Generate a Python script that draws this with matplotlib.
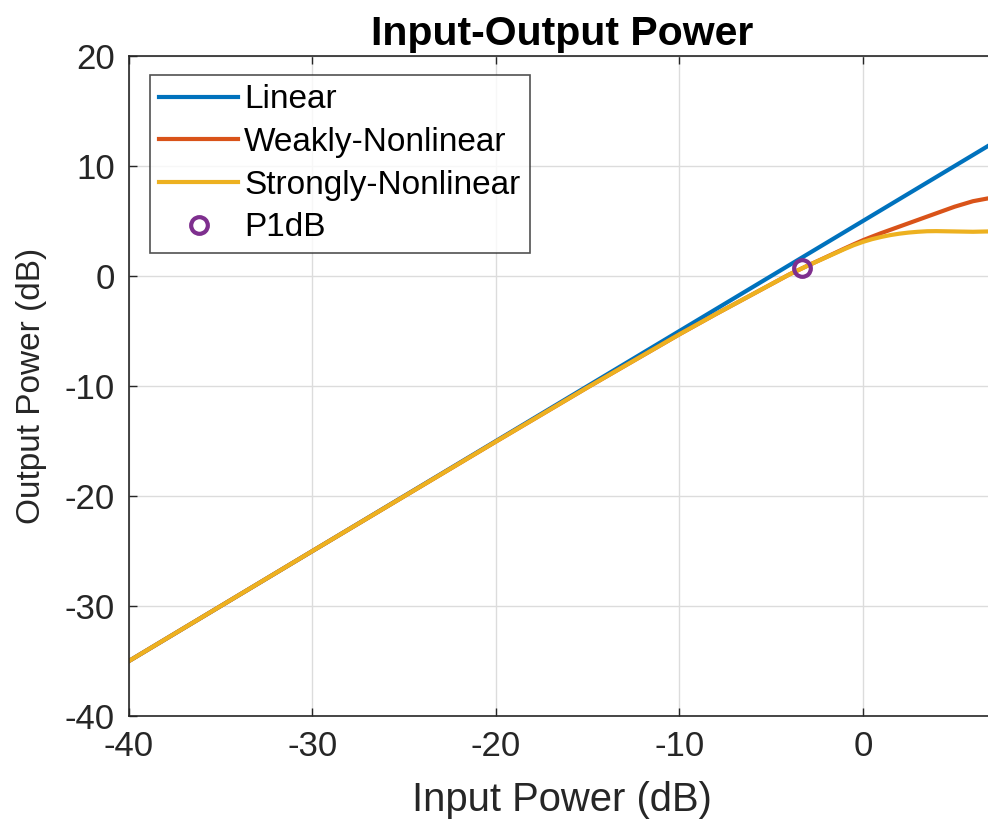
import numpy as np
import matplotlib
matplotlib.use('Agg')
import matplotlib.pyplot as plt

plt.rcParams['font.family'] = ['Liberation Sans', 'DejaVu Sans']
plt.rcParams['axes.unicode_minus'] = False

# data
p_in = [-40, -30, -20, -15, -10, -8, -6, -4, -3, -2, -1, -0.5, 0, 0.5, 1, 1.5,
        2, 2.5, 3, 3.5, 4, 5, 6, 6.8, 7.2]
linear = [-35, -25, -15, -10, -5, -3, -1, 1, 2, 3, 4, 4.5, 5, 5.5, 6, 6.5,
          7, 7.5, 8, 8.5, 9, 10, 11, 11.8, 12.2]
weak = [-35, -25, -15.05, -10.12, -5.3, -3.45, -1.65, 0.15, 0.95, 1.72, 2.5,
        2.88, 3.25, 3.58, 3.9, 4.2, 4.5, 4.8, 5.1, 5.4, 5.7, 6.3, 6.8, 7.05, 7.1]
strong = [-35, -25, -15.05, -10.12, -5.3, -3.45, -1.65, 0.15, 0.95, 1.7, 2.45,
          2.8, 3.1, 3.35, 3.55, 3.72, 3.85, 3.95, 4.02, 4.07, 4.08, 4.05, 4.02,
          4.05, 4.06]
p1db_in = -3.3
p1db_out = 0.7

fig = plt.figure(figsize=(9.88, 8.32), dpi=100)
# axes runs a bit past the right edge of the figure, like the cropped original
ax = fig.add_axes([129/988, 116/832, 866/988, 660/832])

ax.plot(p_in, linear, color='#0072BD', lw=3, label='Linear')
ax.plot(p_in, weak, color='#D95319', lw=3, label='Weakly-Nonlinear')
ax.plot(p_in, strong, color='#EDB120', lw=3, label='Strongly-Nonlinear')
ax.plot([p1db_in], [p1db_out], 'o', color='#7E2F8E', mfc='none', ms=12, mew=3,
        ls='none', label='P1dB')

ax.set_xlim(-40, 7.2)
ax.set_ylim(-40, 20)
ax.set_xticks([-40, -30, -20, -10, 0])
ax.set_yticks(np.arange(-40, 21, 10))
ax.grid(True, color='#dcdcdc', lw=1)
ax.set_axisbelow(True)

for s in ['left', 'bottom', 'top']:
    ax.spines[s].set_color('#262626')
    ax.spines[s].set_linewidth(1.2)
ax.spines['right'].set_visible(False)
ax.tick_params(direction='in', length=6, width=1, colors='#262626',
               labelsize=25, top=True, pad=10)

ax.set_xlabel('Input Power (dB)', fontsize=28.8, color='#262626', labelpad=13)
ax.set_ylabel('Output Power (dB)', fontsize=24, color='#262626', labelpad=13)
ax.set_title('Input-Output Power', fontsize=29.5, fontweight='bold', pad=8)

leg = ax.legend(loc='upper left', bbox_to_anchor=(21/866, 641/660), fontsize=24,
                frameon=True, fancybox=False, edgecolor='#262626',
                handlelength=2.35, handletextpad=0.2, labelspacing=0.35,
                borderaxespad=0, borderpad=0.28)
leg.get_frame().set_linewidth(1.2)

fig.savefig('out.png', dpi=100)
